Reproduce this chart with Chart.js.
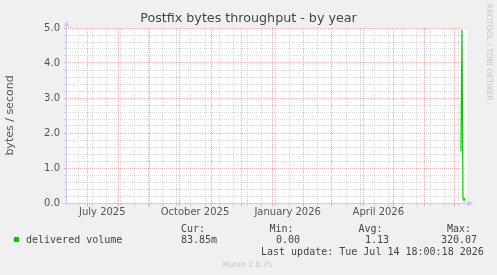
<!DOCTYPE html>
<html><head><meta charset="utf-8">
<script src="https://cdn.jsdelivr.net/npm/chart.js@4/dist/chart.umd.min.js"></script>
<style>html,body{margin:0;padding:0;background:#f0f0f0;overflow:hidden}#wrap{position:relative;width:497px;height:275px}canvas{display:block}</style>
</head><body><div id="wrap"><canvas id="c" width="497" height="275"></canvas></div>
<script>
// ---- data ----
const chartTitle = 'Postfix bytes throughput - by year';
const yAxisTitle = 'bytes / second';
const seriesName = 'delivered volume';
const dates = ['2026-07-07', '2026-07-08', '2026-07-09', '2026-07-10', '2026-07-11'];
const values = [1.47, 4.95, 0.14, 0.07, 0.14];
const xMinDate = '2025-06-10';
const xMaxDate = '2026-07-12';
const monthStarts = ['2025-07-01','2025-08-01','2025-09-01','2025-10-01','2025-11-01','2025-12-01',
  '2026-01-01','2026-02-01','2026-03-01','2026-04-01','2026-05-01','2026-06-01','2026-07-01'];
const minorStart = '2025-06-22';
const minorStepDays = 14;
const xLabelDates = ['2025-07-16', '2025-10-16', '2026-01-16', '2026-04-16'];
const xLabels = ['July 2025', 'October 2025', 'January 2026', 'April 2026'];
const yTickLabels = ['0.0', '1.0', '2.0', '3.0', '4.0', '5.0'];
const statHeaders = ['Cur:', 'Min:', 'Avg:', 'Max:'];
const statValues = ['83.85m', '0.00', '1.13', '320.07'];
const lastUpdate = 'Last update: Tue Jul 14 18:00:18 2026';
const watermark = 'RRDTOOL / TOBI OETIKER';
const footer = 'Munin 2.0.75';

// ---- helpers ----
const DAY = 86400000;
const t = s => Date.parse(s + 'T00:00:00Z');
const xMin = t(xMinDate), xMax = t(xMaxDate);
const monthVals = monthStarts.map(t);
const labelVals = xLabelDates.map(t);
const minorVals = [];
for (let v = t(minorStart); v <= xMax; v += minorStepDays * DAY) minorVals.push(v);

const MINOR = 'rgba(140,140,140,0.32)';
const MAJOR = 'rgba(225,0,0,0.30)';
const CLEAR = 'rgba(0,0,0,0)';
const AXIS = '#c8ccf4';
const GREEN = '#00cc00';

const bgPlugin = {
  id: 'bg',
  beforeDraw(chart) {
    const {ctx, chartArea: a} = chart;
    ctx.save();
    ctx.fillStyle = '#f0f0f0';
    ctx.fillRect(0, 0, chart.width, chart.height);
    ctx.fillStyle = '#ffffff';
    ctx.fillRect(a.left, a.top, a.right - a.left + 1, a.bottom - a.top);
    ctx.restore();
  }
};

const decoPlugin = {
  id: 'deco',
  afterDraw(chart) {
    const {ctx, chartArea: a} = chart;
    ctx.save();
    // axes with arrows
    ctx.strokeStyle = AXIS; ctx.fillStyle = AXIS; ctx.lineWidth = 1;
    const lx = Math.floor(a.left) + 0.5, by = Math.floor(a.bottom) + 0.5;
    ctx.beginPath(); ctx.moveTo(lx, a.bottom + 2); ctx.lineTo(lx, a.top - 4); ctx.stroke();
    ctx.beginPath(); ctx.moveTo(lx - 3, a.top - 1.5); ctx.lineTo(lx + 3, a.top - 1.5); ctx.lineTo(lx, a.top - 7); ctx.closePath(); ctx.fill();
    ctx.beginPath(); ctx.moveTo(a.left - 4, by); ctx.lineTo(a.right + 2, by); ctx.stroke();
    ctx.beginPath(); ctx.moveTo(a.right + 1.5, by - 3); ctx.lineTo(a.right + 1.5, by + 3); ctx.lineTo(a.right + 7, by); ctx.closePath(); ctx.fill();

    // title
    ctx.fillStyle = '#444';
    ctx.font = '12.7px "DejaVu Sans"';
    ctx.textAlign = 'center'; ctx.textBaseline = 'alphabetic';
    ctx.fillText(chartTitle, 248.5, 22);

    // watermark
    ctx.save();
    ctx.translate(489, 4);
    ctx.rotate(Math.PI / 2);
    ctx.font = '7.5px "DejaVu Sans"';
    ctx.fillStyle = '#c4c4c4';
    ctx.textAlign = 'left'; ctx.textBaseline = 'middle';
    ctx.fillText(watermark, 0, 0);
    ctx.restore();

    // legend
    ctx.font = '10px "DejaVu Sans Mono"';
    ctx.fillStyle = '#444';
    ctx.textAlign = 'left'; ctx.textBaseline = 'alphabetic';
    const hx = [181, 269.5, 358.5, 447];
    const vx = [181, 276, 365, 441];
    statHeaders.forEach((h, i) => ctx.fillText(h, hx[i], 232));
    ctx.fillText(seriesName, 26, 243);
    statValues.forEach((v, i) => ctx.fillText(v, vx[i], 243));
    ctx.fillText(lastUpdate, 261, 255);
    ctx.fillStyle = GREEN;
    ctx.fillRect(14, 237, 5, 5);

    // footer
    ctx.font = '7.6px "DejaVu Sans"';
    ctx.fillStyle = '#c4c4c4';
    ctx.textAlign = 'center';
    ctx.fillText(footer, 247.5, 267);
    ctx.restore();
  }
};

new Chart(document.getElementById('c'), {
  type: 'line',
  data: {
    datasets: [{
      label: seriesName,
      data: dates.map((d, i) => ({x: t(d), y: values[i]})),
      borderColor: GREEN,
      borderWidth: 1.2,
      pointRadius: 0,
      fill: false,
      tension: 0
    }]
  },
  options: {
    responsive: false,
    animation: false,
    devicePixelRatio: 1,
    layout: {padding: {top: 28, right: 31, left: 0, bottom: 0}},
    plugins: {legend: {display: false}, title: {display: false}, tooltip: {enabled: false}},
    scales: {
      x: {
        type: 'linear', min: xMin, max: xMax,
        afterBuildTicks(s) {
          const all = [...new Set([...minorVals, ...monthVals, ...labelVals])].filter(v => v >= xMin && v <= xMax).sort((a, b) => a - b);
          s.ticks = all.map(v => ({value: v}));
        },
        afterFit(s) { s.height = 72; },
        ticks: {
          autoSkip: false, maxRotation: 0, minRotation: 0, padding: 0, color: '#555',
          font: {family: 'DejaVu Sans', size: 10},
          callback(v) { const i = labelVals.indexOf(v); return i >= 0 ? xLabels[i] : ''; }
        },
        grid: {
          lineWidth: 1, drawTicks: true, tickLength: 3,
          color(c) {
            const v = c.tick && c.tick.value;
            if (labelVals.includes(v)) return CLEAR;
            return monthVals.includes(v) ? MAJOR : MINOR;
          },
          borderDash: [1, 1], dash: [1, 1]
        },
        border: {display: false, dash: [1, 1]}
      },
      y: {
        type: 'linear', min: 0, max: 5,
        afterBuildTicks(s) {
          const arr = [];
          for (let i = 0; i <= 25; i++) arr.push({value: i / 5});
          s.ticks = arr;
        },
        afterFit(s) { s.width = 66; },
        ticks: {
          autoSkip: false, padding: 4, color: '#555',
          font: {family: 'DejaVu Sans', size: 10},
          callback(v) { const k = Math.round(v); return Math.abs(v - k) < 1e-9 ? yTickLabels[k] : ''; }
        },
        grid: {
          lineWidth: 1, drawTicks: true, tickLength: 2,
          color(c) {
            const v = c.tick && c.tick.value;
            return Math.abs(v - Math.round(v)) < 1e-9 ? MAJOR : MINOR;
          },
          borderDash: [1, 1], dash: [1, 1]
        },
        border: {display: false, dash: [1, 1]},
        title: {
          display: true, text: yAxisTitle, color: '#555',
          font: {family: 'DejaVu Sans', size: 11}, padding: {top: 4, bottom: 0}
        }
      }
    }
  },
  plugins: [bgPlugin, decoPlugin]
});
</script>
</body></html>
